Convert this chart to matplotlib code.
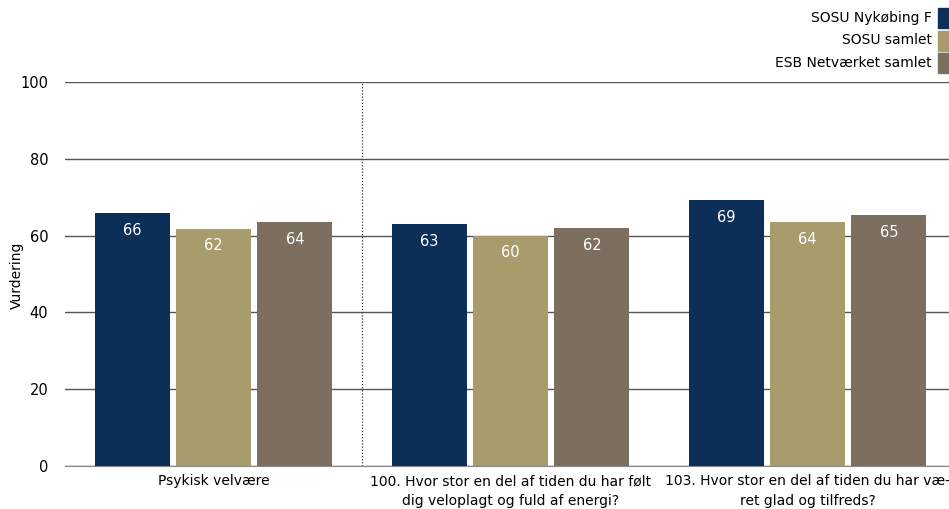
import matplotlib
matplotlib.use("Agg")
import matplotlib.pyplot as plt
from matplotlib.patches import Rectangle
import numpy as np

categories = ["Psykisk velvære",
              "100. Hvor stor en del af tiden du har følt\ndig veloplagt og fuld af energi?",
              "103. Hvor stor en del af tiden du har væ-\nret glad og tilfreds?"]
series_names = ["SOSU Nykøbing F", "SOSU samlet", "ESB Netværket samlet"]
sosu_nykobing = [65.9, 62.9, 69.3]
sosu_samlet = [61.8, 60.0, 63.6]
esb_samlet = [63.6, 62.0, 65.4]
labels_vals = [sosu_nykobing, sosu_samlet, esb_samlet]
colors = ["#0C2F57", "#A89C6C", "#7C6F5F"]

FS = 10
W, H = 949, 509
fig = plt.figure(figsize=(W/100, H/100), dpi=100)
ax_left, ax_right = 65, 956
ax_top, ax_bot = 82, 466
ax = fig.add_axes([ax_left/W, 1-ax_bot/H, (ax_right-ax_left)/W, (ax_bot-ax_top)/H])

x = np.arange(len(categories))
bw = 0.2525
offsets = [-0.274, 0.0, 0.274]
for vals, off, c in zip(labels_vals, offsets, colors):
    ax.bar(x + off, vals, width=bw, color=c, zorder=3)
    for xi, v in zip(x + off, vals):
        ax.text(xi, v - 4.5, f"{round(v):.0f}", ha="center", va="center",
                color="white", fontsize=FS + 0.5, zorder=4)

ax.set_xlim(-0.5, 2.5)
ax.set_ylim(0, 100)
ax.set_yticks([0, 20, 40, 60, 80, 100])
ax.yaxis.grid(True, color="#555555", linewidth=1, zorder=0)
ax.set_axisbelow(True)
for s in ["top", "right", "left"]:
    ax.spines[s].set_visible(False)
ax.spines["bottom"].set_color("#888888")
ax.tick_params(axis="y", length=0, pad=12, labelsize=FS + 0.5)
ax.tick_params(axis="x", length=0, pad=6, labelsize=FS)
ax.set_xticks(x)
ax.set_xticklabels(categories, linespacing=1.5)
fig.text(17/W, 1 - 275/H, "Vurdering", rotation=90, ha="center", va="center", fontsize=FS)
ax.axvline(0.5, color="#333333", linestyle=(0, (1, 1.5)), linewidth=0.9, zorder=2)

# legend
for i, (name, c) in enumerate(zip(series_names, colors)):
    yc = 18 + i * 22.5
    fig.text(932/W, 1 - yc/H, name, ha="right", va="center", fontsize=FS)
    fig.patches.append(Rectangle((938/W, 1 - (yc+10)/H), 11/W, 20/H,
                                 transform=fig.transFigure, color=c))

fig.savefig("out.png", dpi=100)
